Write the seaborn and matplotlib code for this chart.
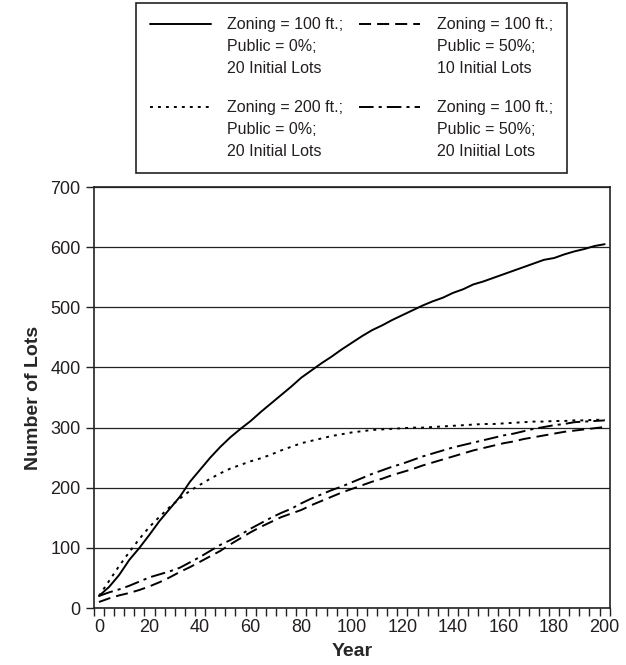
import numpy as np
import pandas as pd
import matplotlib
matplotlib.use("Agg")
import matplotlib.pyplot as plt
import seaborn as sns
from matplotlib.legend_handler import HandlerLine2D

# years every 4 (category axis in the original)
years = list(range(0, 201, 4))

zoning100_pub0_20 = [20, 35, 55, 80, 100, 122, 145, 165, 185, 210, 230, 250, 268,
                     284, 298, 311, 326, 340, 354, 368, 383, 395, 407, 418, 430, 441,
                     452, 462, 470, 479, 487, 495, 503, 510, 516, 524, 530, 538, 543,
                     549, 555, 561, 567, 573, 579, 582, 588, 593, 597, 602, 605]
zoning200_pub0_20 = [20, 45, 70, 93, 115, 135, 152, 168, 182, 195, 205, 215, 224,
                     232, 238, 244, 249, 255, 262, 268, 274, 278, 282, 286, 289, 292,
                     294, 296, 297, 298, 299, 300, 300, 301, 302, 303, 304, 305, 306,
                     306, 307, 308, 309, 310, 310, 311, 311, 312, 312, 313, 313]
zoning100_pub50_10 = [10, 16, 21, 25, 30, 36, 43, 51, 60, 68, 77, 86, 95, 106, 116,
                      126, 135, 143, 151, 157, 163, 171, 178, 185, 192, 198, 204, 210,
                      215, 221, 226, 231, 237, 242, 247, 252, 257, 262, 266, 270, 274,
                      277, 281, 284, 287, 290, 293, 295, 297, 299, 301]
zoning100_pub50_20 = [20, 26, 31, 37, 44, 51, 56, 61, 67, 76, 85, 95, 105, 113, 122,
                      132, 141, 150, 158, 165, 174, 182, 189, 196, 202, 209, 216, 223,
                      229, 235, 240, 246, 252, 257, 262, 267, 271, 275, 279, 283, 287,
                      290, 294, 298, 301, 304, 306, 309, 310, 311, 312]

labels = ["Zoning = 100 ft.;\nPublic = 0%;\n20 Initial Lots",
          "Zoning = 200 ft.;\nPublic = 0%;\n20 Initial Lots",
          "Zoning = 100 ft.;\nPublic = 50%;\n10 Initial Lots",
          "Zoning = 100 ft.;\nPublic = 50%;\n20 Iniitial Lots"]

df = pd.DataFrame({
    "Year": years * 4,
    "Lots": zoning100_pub0_20 + zoning200_pub0_20 + zoning100_pub50_10 + zoning100_pub50_20,
    "Scenario": np.repeat(labels, len(years)),
})

sns.set_theme(style="white")
plt.rcParams["font.family"] = ["Liberation Sans", "DejaVu Sans"]

fig = plt.figure(figsize=(6.26, 6.65), dpi=100)
ax = fig.add_axes([0.150, 0.0857, 0.824, 0.633])

dash_map = {labels[0]: "", labels[1]: (1.5, 2.6), labels[2]: (6.2, 3.1),
            labels[3]: (7.5, 2.6, 1.6, 2.6)}
sns.lineplot(data=df, x="Year", y="Lots", style="Scenario", dashes=dash_map,
             color="black", linewidth=1.4, legend=False, ax=ax, zorder=3)

ax.set_xlim(-2, 202)
ax.set_ylim(0, 700)
ax.set_yticks(range(0, 701, 100))
ax.yaxis.grid(True, color="#222222", linewidth=0.9)
ax.set_xticks(np.arange(-2, 203, 4))
ax.set_xticklabels([])
ax.set_xticks(range(0, 201, 20), minor=True)
ax.set_xticklabels([str(v) for v in range(0, 201, 20)], minor=True)
ax.tick_params(axis="x", which="major", bottom=True, direction="out", length=6,
               width=1, color="#222222")
ax.tick_params(axis="x", which="minor", bottom=True, length=0, labelsize=13,
               labelcolor="#231f20", pad=8)
ax.tick_params(axis="y", direction="out", length=6, width=1, color="#222222",
               labelsize=13, labelcolor="#231f20", left=True)
for s in ax.spines.values():
    s.set_color("#222222")
    s.set_linewidth(1.2)
ax.set_xlabel("Year", fontsize=14, fontweight="bold", labelpad=5)
ax.set_ylabel("Number of Lots", fontsize=14, fontweight="bold", labelpad=6)


class TopLine(HandlerLine2D):
    # put the line sample beside the first text line, as in the original
    def create_artists(self, legend, orig_handle, xdescent, ydescent, width, height,
                       fontsize, trans):
        arts = super().create_artists(legend, orig_handle, xdescent, ydescent, width,
                                      height, fontsize, trans)
        for a in arts:
            a.set_ydata(np.asarray(a.get_ydata()) + fontsize * 1.42)
        return arts


handles = ax.get_lines()[:4]
leg = fig.legend(handles, labels, ncol=2, loc="upper center",
                 bbox_to_anchor=(0.5615, 0.9955), borderaxespad=0, fontsize=11.5,
                 frameon=True, fancybox=False, edgecolor="#222222", framealpha=1,
                 handlelength=3.8, handletextpad=1.05, columnspacing=1.0,
                 labelspacing=1.55, borderpad=0.9,
                 handler_map={h: TopLine() for h in handles})
leg.get_frame().set_linewidth(1.2)
for t in leg.get_texts():
    t.set_linespacing(1.55)
    t.set_color("#231f20")

fig.savefig("out.png", dpi=100)
